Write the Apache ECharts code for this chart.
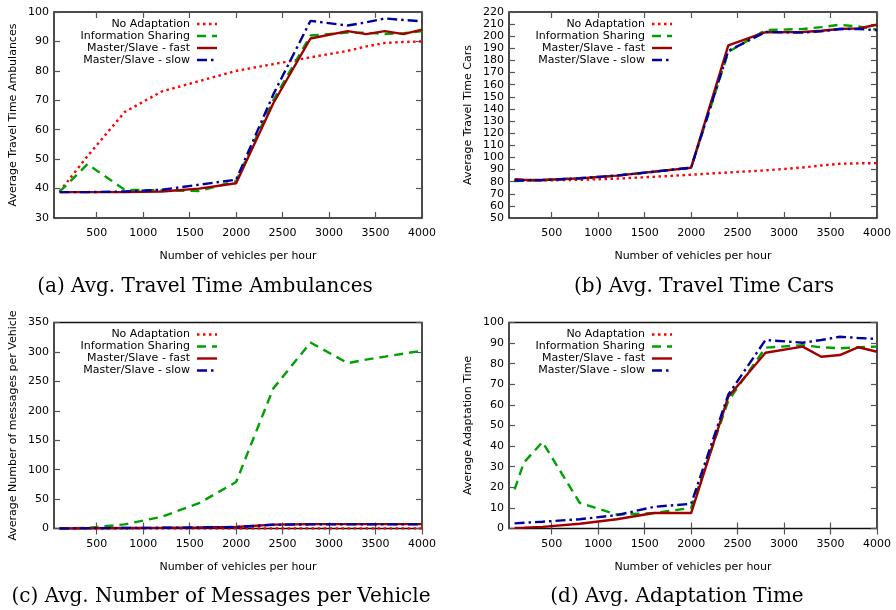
<!DOCTYPE html>
<html>
<head>
<meta charset="utf-8">
<script src="https://cdn.jsdelivr.net/npm/echarts@6/dist/echarts.min.js"></script>
<style>
  html, body { margin: 0; padding: 0; background: #fff; }
  #chart { width: 896px; height: 610px; }
</style>
</head>
<body>
<div id="chart"></div>
<script>
// vehicles per hour (shared x values)
const xs = [100, 200, 400, 800, 1200, 1600, 2000, 2400, 2800, 3200, 3400, 3600, 3800, 4000];
const xTicks = [500, 1000, 1500, 2000, 2500, 3000, 3500, 4000];
const seriesNames = ["No Adaptation", "Information Sharing", "Master/Slave - fast", "Master/Slave - slow"];

// (a) ambulances
const noAdaptA = [39, 43, 51, 66, 73, 76.5, 80, 82.3, 84.6, 86.8, 88.3, 89.5, 89.8, 90];
const infoA = [39, 42, 48.3, 39.6, 39.4, 39.2, 42.5, 70, 92, 93, 93, 92.5, 92.8, 93.5];
const fastA = [38.8, 38.8, 38.8, 38.8, 39, 40, 41.8, 69, 91, 93.5, 92.5, 93.5, 92.5, 94];
const slowA = [38.8, 38.8, 38.8, 39, 39.6, 41.3, 43, 72, 97, 95.4, 96.5, 97.8, 97.3, 96.8];

// (b) cars
const noAdaptB = [81, 81, 81, 81.5, 82.5, 84, 85.7, 87.6, 89.3, 91.7, 93.3, 94.8, 95.1, 95.3];
const infoB = [80.5, 80.8, 81.3, 82.8, 85, 88.2, 91.5, 187, 205, 206, 207.5, 209.5, 208, 205.5];
const fastB = [82, 81.6, 81.4, 82.7, 85, 88.3, 91.5, 192.5, 203.3, 203.5, 204.5, 206, 206.5, 209.5];
const slowB = [81, 81, 81.3, 82.8, 85, 88.2, 91.5, 188, 203.5, 203, 204, 206, 206, 205];

// (c) messages per vehicle
const noAdaptC = [0, 0, 0, 0, 0, 0, 0, 0, 0, 0, 0, 0, 0, 0];
const infoC = [0, 0.3, 1, 7, 20, 43, 79, 238, 316, 281, 287, 292, 297, 302];
const fastC = [0, 0, 0.3, 0.8, 1.2, 1.8, 2.5, 6.5, 7.5, 7.5, 7.5, 7.5, 7.5, 7.5];
const slowC = [0, 0, 0.3, 0.8, 1.2, 1.8, 2.5, 6.3, 7, 7, 7, 7, 7, 7];

// (d) adaptation time (no line drawn for No Adaptation)
const noAdaptD = [];
const infoD = [19, 32, 42, 12.5, 6.8, 7.5, 10, 62, 87.8, 89, 88, 87.5, 88, 88.3];
const fastD = [0.3, 0.4, 0.8, 2.3, 4.5, 7.5, 7.5, 64, 85.3, 88.3, 83.4, 84.2, 88, 85.8];
const slowD = [2.5, 2.8, 3.3, 4.5, 6.5, 10.5, 12, 65, 91.5, 90.2, 91.5, 93.1, 92.5, 92];

const styles = [
  { color: "#ff0000", width: 2.4, type: [2.5, 3.5] },
  { color: "#00a000", width: 2.4, type: [9, 6] },
  { color: "#a00000", width: 2.4, type: "solid" },
  { color: "#0000a0", width: 2.4, type: [10, 4, 2.5, 4] },
];

const panels = [
  { left: 54, top: 12, ymin: 30, ymax: 100, yint: 10, yname: "Average Travel Time Ambulances",
    data: [noAdaptA, infoA, fastA, slowA], caption: "(a) Avg. Travel Time Ambulances", capX: 205, capY: 287 },
  { left: 509, top: 12, ymin: 50, ymax: 220, yint: 10, yname: "Average Travel Time Cars",
    data: [noAdaptB, infoB, fastB, slowB], caption: "(b) Avg. Travel Time Cars", capX: 704, capY: 287 },
  { left: 54, top: 322.5, ymin: 0, ymax: 350, yint: 50, yname: "Average Number of messages per Vehicle",
    data: [noAdaptC, infoC, fastC, slowC], caption: "(c) Avg. Number of Messages per Vehicle", capX: 221, capY: 597 },
  { left: 509, top: 322.5, ymin: 0, ymax: 100, yint: 10, yname: "Average Adaptation Time",
    data: [noAdaptD, infoD, fastD, slowD], caption: "(d) Avg. Adaptation Time", capX: 677, capY: 597 },
];

const W = 368, H = 206, XMIN = 40, XMAX = 4000;
const font = "DejaVu Sans";
const tick = { show: true, inside: true, length: 6, lineStyle: { color: "#555", width: 1.2 } };

const grid = [], xAxis = [], yAxis = [], series = [], graphic = [];

panels.forEach((p, i) => {
  grid.push({ left: p.left, top: p.top, width: W, height: H, show: true,
    borderColor: "#111", borderWidth: 1.5, backgroundColor: "transparent" });

  xAxis.push({
    type: "value", gridIndex: i, min: XMIN, max: XMAX, position: "bottom",
    name: "Number of vehicles per hour", nameLocation: "middle", nameGap: 33,
    nameTextStyle: { fontFamily: font, fontSize: 11, color: "#000" },
    axisLine: { show: false }, splitLine: { show: false },
    axisTick: Object.assign({ customValues: xTicks }, tick),
    axisLabel: { customValues: xTicks, fontFamily: font, fontSize: 11, color: "#000", margin: 10,
      formatter: (v) => String(v) },
  });
  xAxis.push({
    type: "value", gridIndex: i, min: XMIN, max: XMAX, position: "top",
    axisLine: { show: false }, splitLine: { show: false },
    axisTick: Object.assign({ customValues: xTicks }, tick),
    axisLabel: { show: false },
  });
  yAxis.push({
    type: "value", gridIndex: i, min: p.ymin, max: p.ymax, interval: p.yint, position: "left",
    name: p.yname, nameLocation: "middle", nameGap: 35,
    nameTextStyle: { fontFamily: font, fontSize: 11, color: "#000" },
    axisLine: { show: false }, splitLine: { show: false }, axisTick: tick,
    axisLabel: { fontFamily: font, fontSize: 11, color: "#000", margin: 5 },
  });
  yAxis.push({
    type: "value", gridIndex: i, min: p.ymin, max: p.ymax, interval: p.yint, position: "right",
    axisLine: { show: false }, splitLine: { show: false }, axisTick: tick,
    axisLabel: { show: false },
  });

  p.data.forEach((vals, k) => {
    series.push({
      name: seriesNames[k], type: "line", xAxisIndex: 2 * i, yAxisIndex: 2 * i,
      data: vals.map((v, j) => [xs[j], v]),
      symbol: "none", silent: true, animation: false,
      lineStyle: styles[k], z: 2 + k,
    });
    const y = p.top + 12 + 12 * k;
    graphic.push({
      type: "text", x: p.left + 136, y: y,
      style: { text: seriesNames[k], fontFamily: font, fontSize: 11, fill: "#000",
        align: "right", verticalAlign: "middle" },
    });
    graphic.push({
      type: "line", shape: { x1: p.left + 143, y1: y, x2: p.left + 163, y2: y },
      style: { stroke: styles[k].color, lineWidth: styles[k].width,
        lineDash: styles[k].type === "solid" ? null : styles[k].type },
    });
  });

  graphic.push({
    type: "text", x: p.capX, y: p.capY,
    style: { text: p.caption, fontFamily: "DejaVu Serif", fontSize: 20, fill: "#000",
      align: "center", verticalAlign: "middle" },
  });
});

const chart = echarts.init(document.getElementById("chart"), null, { renderer: "canvas" });
chart.setOption({
  animation: false,
  backgroundColor: "#fff",
  grid, xAxis, yAxis, series, graphic,
});
</script>
</body>
</html>
